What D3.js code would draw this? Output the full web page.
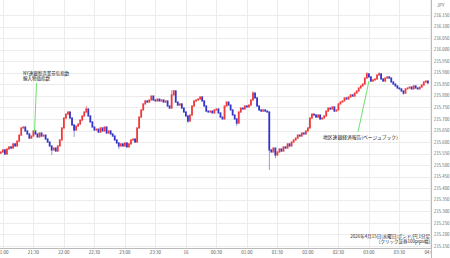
<!DOCTYPE html>
<html><head><meta charset="utf-8">
<script src="https://cdn.jsdelivr.net/npm/d3@7"></script>
<style>html,body{margin:0;padding:0;background:#fff;overflow:hidden}svg{display:block}</style>
</head><body>
<svg id="c" width="450" height="258"></svg>
<script>
// ---- data ----
const startTime = "2026-04-15T20:58:00";   // first 2-minute candle
const candleMinutes = 2;
const firstOpen = 215.552;
const closes = [
215.557,215.566,215.548,215.570,215.579,215.574,215.592,215.583,215.604,215.630,
215.661,215.665,215.648,215.635,215.617,215.626,215.648,215.635,215.622,215.639,
215.626,215.630,215.613,215.600,215.583,215.566,215.574,215.561,215.583,215.609,
215.661,215.704,215.721,215.730,215.704,215.674,215.652,215.669,215.678,215.695,
215.713,215.730,215.743,215.713,215.687,215.665,215.652,215.656,215.643,215.661,
215.648,215.665,215.639,215.648,215.635,215.626,215.609,215.596,215.583,215.592,
215.583,215.596,215.579,215.592,215.609,215.613,215.600,215.661,215.708,215.739,
215.765,215.778,215.773,215.782,215.799,215.782,215.778,215.786,215.778,215.782,
215.773,215.778,215.756,215.747,215.804,215.821,215.773,215.760,215.765,215.747,
215.730,215.713,215.691,215.717,215.756,215.778,215.782,215.786,215.795,215.778,
215.756,215.734,215.730,215.734,215.726,215.739,215.743,215.726,215.708,215.700,
215.756,215.773,215.760,215.739,215.717,215.700,215.682,215.730,215.747,215.743,
215.756,215.752,215.760,215.782,215.812,215.791,215.756,215.739,215.734,215.739,
215.734,215.730,215.566,215.557,215.574,215.544,215.557,215.570,215.561,215.579,
215.574,215.592,215.583,215.600,215.609,215.617,215.630,215.626,215.639,215.635,
215.648,215.661,215.704,215.721,215.717,215.708,215.717,215.700,215.704,215.713,
215.734,215.747,215.743,215.752,215.734,215.739,215.765,215.773,215.778,215.791,
215.786,215.795,215.804,215.799,215.812,215.821,215.834,215.843,215.851,215.877,
215.895,215.882,215.864,215.869,215.873,215.890,215.895,215.873,215.864,215.877,
215.882,215.877,215.860,215.851,215.843,215.834,215.830,215.821,215.812,215.830,
215.834,215.838,215.830,215.843,215.834,215.830,215.838,215.847,215.860,215.864,
215.856
];
// wick extremes for selected candles (index, price)
const wickIndex = [25, 36, 42, 58, 84, 85, 92, 116, 124, 132, 135, 180, 186, 198];
const wickPrice = [215.544, 215.622, 215.756, 215.570, 215.825, 215.825, 215.682, 215.669, 215.821, 215.479, 215.530, 215.903, 215.903, 215.804];

const yTicks = [216.15,216.10,216.05,216.00,215.95,215.90,215.85,215.80,215.75,215.70,215.65,215.60,215.55,215.50,215.45,215.40,215.35,215.30,215.25,215.20,215.15];
const xStart = "2026-04-15T20:57:03";
const xEnd = "2026-04-16T04:00:00";
const unitLabel = "JPY";
const notes = [
  {lines:["NY連銀製造業景気指数","輸入物価指数"], idx:17},
  {lines:["地区連銀経済報告(ベージュブック)"], idx:181}
];
const footer = ["2026年4月15日(水曜日)ポンド/円 1分足", "[クリック証券100pips幅]"];

// ---- drawing ----
const W = 450, H = 258, plotR = 431, plotB = 248;
const svg = d3.select("#c");
const font = "'Noto Sans CJK JP','Noto Sans',sans-serif";
const t0 = new Date(startTime);
const times = closes.map((_, i) => d3.timeMinute.offset(t0, i * candleMinutes));
const candles = closes.map((c, i) => ({t: times[i], o: i ? closes[i-1] : firstOpen, c}));

const x = d3.scaleTime().domain([new Date(xStart), new Date(xEnd)]).range([0, 430]);
const y = d3.scaleLinear().domain([215.15, 216.15]).range([246, 15]);

// grid
const xt = x.ticks(d3.timeMinute.every(30));
svg.append("g").selectAll("line").data(xt).join("line")
  .attr("x1", d => Math.round(x(d)) + .5).attr("x2", d => Math.round(x(d)) + .5)
  .attr("y1", 0).attr("y2", plotB).attr("stroke", "#ececec").attr("stroke-width", 1);
svg.append("g").selectAll("line").data(yTicks).join("line")
  .attr("x1", 0).attr("x2", plotR).attr("y1", d => Math.round(y(d)) + .5).attr("y2", d => Math.round(y(d)) + .5)
  .attr("stroke", "#ececec").attr("stroke-width", 1);

// candles
const g = svg.append("g");
const cw = x(d3.timeMinute.offset(t0, candleMinutes)) - x(t0);
const wickColor = i => candles[i].c >= candles[i].o ? "#f09090" : "#9a9ae0";
g.selectAll("line.w").data(wickIndex).join("line")
  .attr("x1", i => x(times[i])).attr("x2", i => x(times[i]))
  .attr("y1", i => y(candles[i].c)).attr("y2", (i, k) => y(wickPrice[k]))
  .attr("stroke", wickColor).attr("stroke-width", 1);
g.selectAll("rect").data(candles).join("rect")
  .attr("x", d => x(d.t) - cw / 2)
  .attr("width", cw * 0.9)
  .attr("y", d => y(Math.max(d.o, d.c)) - 0.6)
  .attr("height", d => Math.abs(y(d.o) - y(d.c)) + 1.2)
  .attr("fill", d => d.c >= d.o ? "#ee3a3a" : "#3434c8");

// annotations
const n1 = notes[0], n2 = notes[1];
svg.append("line").attr("x1", x(times[n1.idx]) - 1).attr("y1", y(closes[n1.idx]) - 2)
  .attr("x2", x(times[n1.idx]) + 1).attr("y2", 83).attr("stroke", "#6ee06e").attr("stroke-width", 1);
n1.lines.forEach((s, k) => svg.append("text").attr("x", 23).attr("y", 75 + k * 5)
  .attr("font-size", 4.5).attr("font-family", font).attr("fill", "#222").text(s));
svg.append("line").attr("x1", x(times[n2.idx])).attr("y1", y(closes[n2.idx]) + 4)
  .attr("x2", 358).attr("y2", 132).attr("stroke", "#6ee06e").attr("stroke-width", 1);
n2.lines.forEach((s, k) => svg.append("text").attr("x", 323).attr("y", 139)
  .attr("font-size", 4.8).attr("font-family", font).attr("fill", "#222").text(s));

// footer
svg.append("text").attr("x", 430).attr("y", 238).attr("text-anchor", "end")
  .attr("font-size", 4.5).attr("font-family", font).attr("fill", "#222").text(footer[0]);
svg.append("text").attr("x", 430).attr("y", 243).attr("text-anchor", "end")
  .attr("font-size", 4.5).attr("font-family", font).attr("fill", "#222").text(footer[1]);

// x axis
svg.append("line").attr("x1", 0).attr("x2", plotR).attr("y1", plotB + .5).attr("y2", plotB + .5)
  .attr("stroke", "#bbb");
const fmt = d => (d.getHours() === 0 && d.getMinutes() === 0) ? d3.timeFormat("%-d")(d) : d3.timeFormat("%H:%M")(d);
svg.append("g").selectAll("text").data(xt).join("text")
  .attr("x", d => x(d)).attr("y", 254).attr("text-anchor", "middle")
  .attr("font-size", 4.5).attr("font-family", font).attr("fill", "#555").text(fmt);

// right axis panel
svg.append("rect").attr("x", plotR).attr("y", 0).attr("width", W - plotR).attr("height", H).attr("fill", "#fff");
svg.append("line").attr("x1", plotR + .5).attr("x2", plotR + .5).attr("y1", 0).attr("y2", H).attr("stroke", "#bbb");
svg.append("g").selectAll("text").data(yTicks).join("text")
  .attr("x", 434).attr("y", d => y(d) + 1.6)
  .attr("font-size", 4.3).attr("font-family", font).attr("fill", "#666").text(d => d.toFixed(3));
svg.append("text").attr("x", 437).attr("y", 7).attr("font-size", 4.3).attr("font-family", font)
  .attr("fill", "#666").text(unitLabel);
</script>
</body></html>
